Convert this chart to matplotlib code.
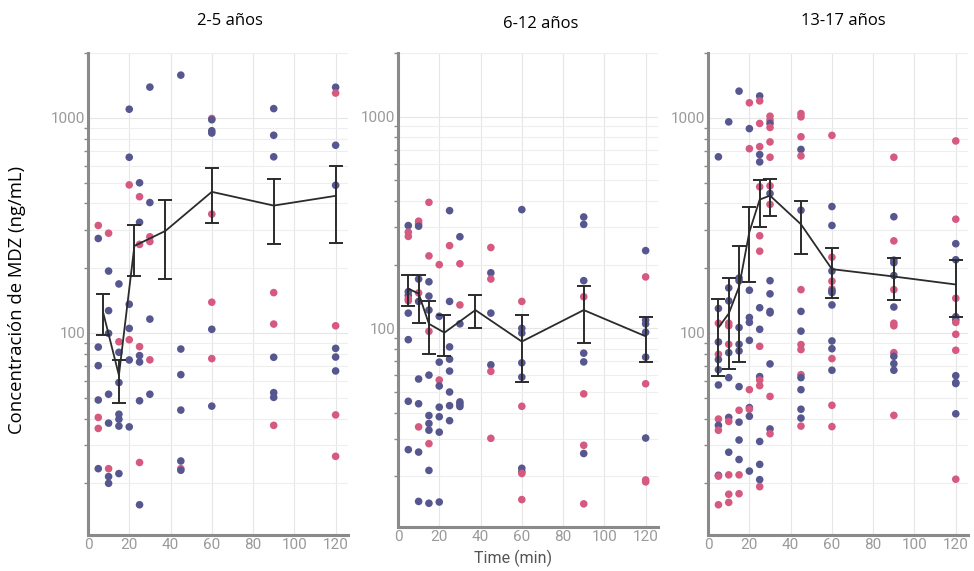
import matplotlib.pyplot as plt
import numpy as np
from matplotlib.ticker import LogLocator, NullFormatter, FixedLocator

# concentraciones individuales de MDZ por grupo de edad: (tiempo, valor, color)
BLUE = "#575790"
PINK = "#d65a80"

t_25 = [5]*8 + [10]*9 + [15]*8 + [20]*8 + [25]*10 + [30]*7 + [45]*7 + [60]*9 + [90]*9 + [120]*10
c_25 = [316, 275, 86, 70.5, 48.8, 40.5, 36, 23.4,
        291, 194, 127, 99.6, 51.9, 38.1, 23.4, 21.5, 20.0,
        169, 91, 81.3, 58.8, 41.9, 39.7, 36.9, 22.2,
        1097, 656, 488, 136, 105, 93, 74.9, 36.6,
        499, 430, 327, 258, 86.4, 78.5, 73.3, 48.4, 25, 15.9,
        1390, 404, 280, 266, 116, 75, 51.9,
        1580, 84.2, 64, 43.8, 25.4, 23.4, 23,
        993, 980, 871, 357, 139, 104, 76, 45.7, 850,
        1104, 830, 659, 154, 110, 77.1, 52.8, 50.2, 37.2,
        1388, 1304, 746, 486, 108, 84.8, 77.3, 66.6, 41.6, 26.7]
g_25 = "PBBBBPPB" + "PBBBBBPBB" + "BPBBBBBB" + "BBPBBPBB" + "BPBPPBBBPB" + "BBPPBPB" + \
       "BBBBBPB" + "PBBPPBPBB" + "BBBPPBBBP" + "BPBBPBBBPP"

t_612 = [5]*11 + [10]*11 + [15]*13 + [20]*9 + [25]*9 + [30]*7 + [45]*7 + [60]*11 + [90]*10 + [120]*10
c_612 = [306, 285, 272, 149, 143, 138, 135, 118, 88.4, 45.2, 26.7,
         321, 312, 304, 171, 147, 134, 57.6, 44, 34.2, 26, 15.2,
         394, 220, 166, 142, 122, 96.8, 60.1, 38.7, 35.5, 33.0, 28.5, 21.3, 14.9,
         200, 114, 69.2, 57, 53.4, 42.4, 38.2, 32.3, 15.1,
         360, 246, 134, 81.7, 71.5, 62.8, 50, 43.1, 36.6,
         271, 202, 129, 105, 44.9, 43.8, 42.7,
         241, 183, 171, 118, 67.2, 62.6, 30.2,
         364, 134, 100, 95, 68.7, 58.8, 42.8, 21.8, 21.0, 20.6, 15.5,
         336, 310, 168, 141, 76.3, 69.4, 49, 28, 25.6, 14.8,
         233, 175, 109.4, 105, 95.8, 73.1, 54.7, 30.3, 19.2, 18.8]
g_612 = "BPPBBPPBBBB" + "PPBBPBBBPBB" + "PPBBBPBBBBPBB" + "PBBPBBBBB" + "BPBBBBBBB" + \
        "BPPBBBB" + "PBPBBPP" + "BPBBBBPBBPP" + "BBBPBBPPBP" + "BPBBBBPBPP"

t_1317 = [5]*14 + [10]*14 + [15]*13 + [20]*12 + [25]*19 + [30]*17 + [45]*17 + [60]*16 + [90]*15 + [120]*15
c_1317 = [659, 130, 111, 90.8, 79.6, 75.2, 67.5, 57.3, 39.8, 37.2, 35.3, 21.8, 21.6, 15.9,
          958, 162, 141, 111, 108, 88.6, 81, 62, 40.5, 38.8, 27.9, 21.9, 17.8, 16.3,
          1331, 180, 175, 106, 88.6, 82.5, 56.3, 43.7, 38.5, 31.8, 25.8, 21.9, 17.9,
          1175, 891, 719, 158, 118, 112, 92.4, 54.5, 45, 44.2, 41, 22.8,
          1264, 1199, 942, 735, 675, 624, 478, 283, 240, 131, 104, 86.7, 62.7, 60.4, 56.9,
          31.3, 24.5, 20.8, 19.3,
          1018, 975, 942, 902, 773, 656, 483, 445, 396, 175, 152, 126, 124, 71.8, 50.7, 35.8, 34.0,
          1047, 1011, 817, 713, 665, 372, 159, 126, 102, 88.3, 83.7, 64, 62, 54.5, 44.2, 40.2, 36.9,
          829, 387, 316, 225, 194, 174, 160, 157, 154, 135, 91.8, 84.5, 76, 67.1, 46.1, 36.7,
          656, 347, 268, 218, 212, 185, 159, 132, 111, 108, 81, 77.9, 72, 67.1, 41.4,
          781, 338, 260, 219, 145, 119, 115, 112, 98.6, 83.1, 63.3, 58.8, 58.2, 42.1, 20.9]
g_1317 = "BBPBPBBBPBPBPP" + "BBBPPPBBBPBPPP" + "BBBBBBBPBBBPP" + "PBPBBBBPBPBB" + \
         "BPPPBBPPPBBPBPPBBBP" + "PPBPPPPBPBBBBBPBP" + "PPPBPBPBBPPPBBBBP" + \
         "PBBPBPPBBBBBPBPP" + "PBPBBBPBPPPBBBP" + "PPBBPBBPPPBBBBP"

# media y barras de error (límite inferior / superior)
m_25_t = [7.5, 15, 22.5, 37.5, 60, 90, 120]
m_25 = [123, 63.6, 254, 298, 453, 391, 434]
lo_25 = [98.2, 47.3, 184, 179, 323, 260, 263]
hi_25 = [151, 75, 319, 417, 585, 522, 598]

m_612_t = [5, 10, 15, 22.5, 37.5, 60, 90, 120]
m_612 = [154, 146, 105, 95.4, 122, 86.6, 122, 91.7]
lo_612 = [128, 106, 75.7, 73.6, 100.7, 55.7, 85, 69.5]
hi_612 = [179, 179, 135, 116, 143, 116, 158, 113]

m_1317_t = [5, 10, 15, 20, 25, 30, 45, 60, 90, 120]
m_1317 = [106, 123, 164, 295, 417, 435, 320, 198, 183, 168]
lo_1317 = [62.8, 68.2, 73.3, 173, 312, 349, 233, 146, 142, 119]
hi_1317 = [144, 180, 254, 385, 515, 522, 409, 249, 224, 218]

titles = ["2-5 años", "6-12 años", "13-17 años"]

panels = [
    (t_25, c_25, g_25, m_25_t, m_25, lo_25, hi_25),
    (t_612, c_612, g_612, m_612_t, m_612, lo_612, hi_612),
    (t_1317, c_1317, g_1317, m_1317_t, m_1317, lo_1317, hi_1317),
]

boxes = [[0.0903, 0.063, 0.267, 0.844],
         [0.4086, 0.077, 0.267, 0.830],
         [0.727, 0.063, 0.267, 0.844]]
title_x = [0.236, 0.555, 0.866]
title_y = [0.963, 0.958, 0.963]

fig = plt.figure(figsize=(9.74, 5.71), dpi=100)
tick_gray = "#9a9a9a"
spine_gray = "#8a8a8a"

for i, (t, c, g, mt, m, lo, hi) in enumerate(panels):
    ax = fig.add_axes(boxes[i])
    cols = [BLUE if k == "B" else PINK for k in g]
    ax.scatter(t, c, s=30, c=cols, linewidths=0, zorder=3)
    m = np.array(m)
    yerr = [m - np.array(lo), np.array(hi) - m]
    ax.errorbar(mt, m, yerr=yerr, color="#2b2b2b", lw=1.3, elinewidth=1.4,
                capsize=5, capthick=1.4, zorder=4)
    ax.set_yscale("log")
    ax.set_ylim(11.5, 2000)
    ax.set_xlim(0, 126)
    ax.set_xticks(range(0, 121, 20))
    ax.yaxis.set_major_locator(FixedLocator([100, 1000]))
    ax.yaxis.set_minor_locator(LogLocator(base=10, subs=np.arange(2, 10)))
    ax.yaxis.set_minor_formatter(NullFormatter())
    ax.set_yticklabels(["100", "1000"])
    ax.grid(True, which="major", color="#e6e6e6", lw=0.8)
    ax.grid(True, which="minor", axis="y", color="#eeeeee", lw=0.8)
    for s in ["top", "right"]:
        ax.spines[s].set_visible(False)
    for s in ["left", "bottom"]:
        ax.spines[s].set_color(spine_gray)
        ax.spines[s].set_linewidth(2.2)
    ax.tick_params(axis="both", which="major", length=0, labelsize=11,
                   labelcolor=tick_gray, pad=2)
    ax.tick_params(axis="y", which="minor", length=3, width=1, color=spine_gray)
    for lab in ax.get_xticklabels() + ax.get_yticklabels():
        lab.set_family("Roboto")
    ax.set_axisbelow(True)
    fig.text(title_x[i], title_y[i], titles[i], ha="center", va="center",
             fontsize=12, family="Open Sans")

fig.text(0.527, 0.022, "Time (min)", ha="center", va="center", fontsize=11.5,
         color="#555555", family="Roboto")
fig.text(0.017, 0.475, "Concentración de MDZ (ng/mL)", ha="center", va="center",
         rotation=90, fontsize=13.3, family="Open Sans")

fig.savefig("out.png", dpi=100)
